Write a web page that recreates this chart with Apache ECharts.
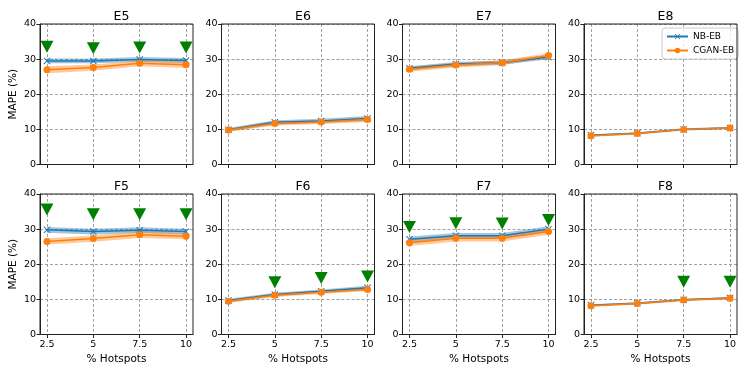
<!DOCTYPE html>
<html>
<head>
<meta charset="utf-8">
<script src="https://cdn.jsdelivr.net/npm/echarts@6/dist/echarts.min.js"></script>
<style>html,body{margin:0;padding:0;background:#fff}#c{width:747px;height:374px}</style>
</head>
<body>
<div id="c"></div>
<script>
const xValues = [2.5, 5, 7.5, 10];
const panelTitles = ['E5', 'E6', 'E7', 'E8', 'F5', 'F6', 'F7', 'F8'];
const seriesNames = ['NB-EB', 'CGAN-EB'];
const yTicks = [0, 10, 20, 30, 40];

const nbMean = [
  [29.5, 29.5, 29.9, 29.6],
  [9.9, 12.0, 12.4, 13.1],
  [27.4, 28.6, 29.0, 30.6],
  [8.3, 8.9, 10.0, 10.4],
  [29.8, 29.3, 29.7, 29.3],
  [9.7, 11.4, 12.3, 13.3],
  [27.1, 28.1, 28.1, 30.0],
  [8.3, 8.9, 9.9, 10.4]
];
const nbLow = [
  [28.8, 28.8, 29.2, 28.9],
  [9.4, 11.4, 11.8, 12.4],
  [26.8, 28.0, 28.4, 30.0],
  [8.0, 8.6, 9.7, 10.1],
  [29.0, 28.5, 28.9, 28.5],
  [9.2, 10.9, 11.8, 12.7],
  [26.3, 27.3, 27.3, 29.2],
  [8.0, 8.6, 9.6, 10.1]
];
const nbHigh = [
  [30.2, 30.2, 30.6, 30.3],
  [10.4, 12.6, 13.0, 13.8],
  [28.0, 29.2, 29.6, 31.2],
  [8.6, 9.2, 10.3, 10.7],
  [30.6, 30.1, 30.5, 30.1],
  [10.2, 11.9, 12.8, 13.9],
  [27.9, 28.9, 28.9, 30.8],
  [8.6, 9.2, 10.2, 10.7]
];
const cganMean = [
  [27.0, 27.6, 28.8, 28.4],
  [9.8, 11.7, 12.1, 12.8],
  [27.1, 28.3, 29.0, 31.0],
  [8.2, 8.8, 10.0, 10.4],
  [26.5, 27.3, 28.4, 28.0],
  [9.5, 11.2, 12.0, 12.8],
  [26.1, 27.4, 27.4, 29.3],
  [8.2, 8.8, 9.8, 10.3]
];
const cganLow = [
  [26.0, 26.7, 28.0, 27.5],
  [9.3, 11.1, 11.5, 12.1],
  [26.4, 27.6, 28.3, 30.3],
  [7.9, 8.5, 9.7, 10.1],
  [25.6, 26.4, 27.5, 27.1],
  [9.0, 10.7, 11.5, 12.3],
  [25.2, 26.5, 26.5, 28.4],
  [7.9, 8.5, 9.5, 10.0]
];
const cganHigh = [
  [28.0, 28.5, 29.6, 29.3],
  [10.3, 12.3, 12.7, 13.5],
  [27.8, 29.0, 29.7, 31.7],
  [8.5, 9.1, 10.3, 10.7],
  [27.4, 28.2, 29.3, 28.9],
  [10.0, 11.7, 12.5, 13.3],
  [27.0, 28.3, 28.3, 30.2],
  [8.5, 9.1, 10.1, 10.6]
];
const sigMarks = [
  [33.5, 33.1, 33.3, 33.3],
  [null, null, null, null],
  [null, null, null, null],
  [null, null, null, null],
  [35.6, 34.2, 34.2, 34.2],
  [null, 14.9, 16.1, 16.5],
  [30.6, 31.7, 31.6, 32.6],
  [null, null, 15.0, 15.0]
];

const BLUE = '#1f77b4', ORANGE = '#ff7f0e', GREEN = '#008000';
const FONT = 'DejaVu Sans';
const X_SYMBOL = 'path://M0,1L1,0L5,4L9,0L10,1L6,5L10,9L9,10L5,6L1,10L0,9L4,5Z';

const lefts = [40, 221.5, 402.5, 584];
const tops = [24, 194];
const W = 153, H = 140.5;

const grids = [], xAxes = [], yAxes = [], titles = [], series = [];

function bandSeries(idx, lo, hi, color) {
  return {
    type: 'custom', xAxisIndex: idx, yAxisIndex: idx, silent: true, z: 1,
    data: xValues.map((x, i) => [x, lo[i], hi[i]]),
    encode: { x: 0, y: [1, 2] },
    renderItem: function (params, api) {
      if (params.dataIndex !== 0) return null;
      const pts = [];
      for (let i = 0; i < xValues.length; i++) pts.push(api.coord([xValues[i], hi[i]]));
      for (let i = xValues.length - 1; i >= 0; i--) pts.push(api.coord([xValues[i], lo[i]]));
      return { type: 'polygon', shape: { points: pts }, style: { fill: color, opacity: 0.42 } };
    }
  };
}

for (let p = 0; p < 8; p++) {
  const row = Math.floor(p / 4), col = p % 4;
  const left = lefts[col], top = tops[row];
  grids.push({ left: left, top: top, width: W, height: H, show: true, borderColor: '#222', borderWidth: 1, backgroundColor: 'transparent', z: 5 });
  xAxes.push({
    type: 'value', gridIndex: p, min: 2.125, max: 10.375,
    name: row === 1 ? '% Hotspots' : '', nameLocation: 'middle', nameGap: 19,
    nameTextStyle: { fontFamily: FONT, fontSize: 10.5, color: '#000' },
    axisLine: { show: true, onZero: false, lineStyle: { color: '#222', width: 1 } },
    axisTick: { show: true, customValues: xValues, length: 3.5, lineStyle: { color: '#222' } },
    axisLabel: { show: row === 1, customValues: xValues, fontFamily: FONT, fontSize: 9.5, color: '#000', margin: 5, formatter: v => String(v) },
    splitLine: { show: true, lineStyle: { color: '#8a8a8a', type: [3, 2], width: 0.8 } }
  });
  yAxes.push({
    type: 'value', gridIndex: p, min: yTicks[0], max: yTicks[yTicks.length - 1], interval: 10,
    name: col === 0 ? 'MAPE (%)' : '', nameLocation: 'middle', nameGap: 21, nameRotate: 90,
    nameTextStyle: { fontFamily: FONT, fontSize: 10.5, color: '#000' },
    axisLine: { show: true, lineStyle: { color: '#222', width: 1 } },
    axisTick: { show: true, length: 3.5, lineStyle: { color: '#222' } },
    axisLabel: { fontFamily: FONT, fontSize: 9.5, color: '#000', margin: 4 },
    splitLine: { show: true, lineStyle: { color: '#8a8a8a', type: [3, 2], width: 0.8 } }
  });
  titles.push({
    text: panelTitles[p], left: left + W / 2, top: top - 19, textAlign: 'center',
    textStyle: { fontFamily: FONT, fontSize: 12.5, fontWeight: 'normal', color: '#000' }
  });
  series.push(bandSeries(p, nbLow[p], nbHigh[p], BLUE));
  series.push(bandSeries(p, cganLow[p], cganHigh[p], ORANGE));
  series.push({
    name: seriesNames[0], type: 'line', xAxisIndex: p, yAxisIndex: p, z: 3,
    data: xValues.map((x, i) => [x, nbMean[p][i]]),
    symbol: X_SYMBOL, symbolSize: 7, showSymbol: true,
    lineStyle: { color: BLUE, width: 1.5 }, itemStyle: { color: BLUE }
  });
  series.push({
    name: seriesNames[1], type: 'line', xAxisIndex: p, yAxisIndex: p, z: 4,
    data: xValues.map((x, i) => [x, cganMean[p][i]]),
    symbol: 'circle', symbolSize: 7, showSymbol: true,
    lineStyle: { color: ORANGE, width: 1.5 }, itemStyle: { color: ORANGE }
  });
  const sig = [];
  xValues.forEach((x, i) => { if (sigMarks[p][i] !== null) sig.push([x, sigMarks[p][i]]); });
  series.push({
    type: 'scatter', xAxisIndex: p, yAxisIndex: p, z: 6,
    data: sig, symbol: 'triangle', symbolRotate: 180, symbolSize: [13, 12],
    itemStyle: { color: GREEN, opacity: 1 }
  });
}

const chart = echarts.init(document.getElementById('c'), null, { renderer: 'canvas' });
chart.setOption({
  animation: false,
  backgroundColor: '#fff',
  title: titles,
  grid: grids,
  xAxis: xAxes,
  yAxis: yAxes,
  legend: {
    data: seriesNames, orient: 'vertical', left: 662, top: 28,
    itemWidth: 21, itemHeight: 7, itemGap: 5,
    padding: [4, 4, 4, 4], borderColor: '#ccc', borderWidth: 1, borderRadius: 3,
    backgroundColor: 'rgba(255,255,255,0.8)',
    textStyle: { fontFamily: FONT, fontSize: 9, color: '#000' }
  },
  series: series
});
</script>
</body>
</html>
